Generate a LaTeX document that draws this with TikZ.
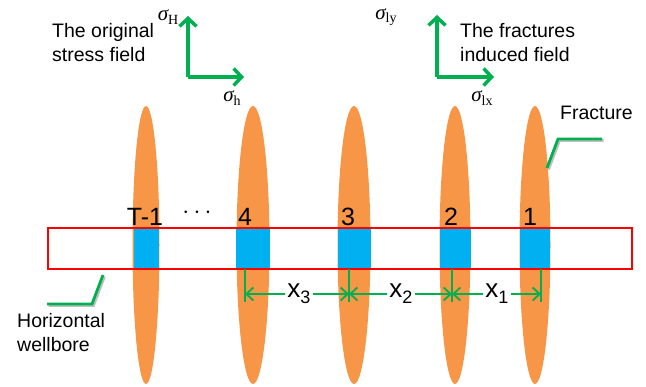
\documentclass[tikz,border=0pt]{standalone}
\usepackage{fontspec}
\setmainfont{Liberation Sans}
\newfontfamily\tmsfont{Liberation Serif}
\usetikzlibrary{arrows.meta,shapes.geometric,calc}
\definecolor{forange}{HTML}{F79646}
\definecolor{fblue}{HTML}{00B0F0}
\definecolor{fgreen}{HTML}{00B050}
\newcommand{\sig}[1]{{\tmsfont\itshape σ}\raisebox{-0.3ex}{\fontsize{14}{14}\selectfont\tmsfont #1}}
\newcommand{\xsub}[1]{x\raisebox{-0.45ex}{\fontsize{18}{18}\selectfont #1}}
\begin{document}
\begin{tikzpicture}[x=1pt,y=-1pt,
  frac/.style={ellipse,fill=forange,draw=none,minimum height=278pt,inner sep=0pt},
  perf/.style={rectangle,fill=fblue,draw=none,minimum height=39pt,inner sep=0pt},
  num/.style={font=\fontsize{25}{28}\selectfont,inner sep=0pt},
  lbl/.style={font=\fontsize{19.5}{24}\selectfont,align=left,inner sep=0pt,anchor=north west},
  sigl/.style={font=\fontsize{21}{22}\selectfont,inner sep=0pt},
  axis/.style={fgreen,line width=3.5pt,-{Straight Barb[length=8pt,width=17pt,line width=3.5pt]}},
  dim/.style={fgreen,line width=1.8pt},
  dimarr/.style={fgreen,line width=1.8pt,-{Straight Barb[length=7pt,width=13pt,line width=1.8pt]}},
  leader/.style={fgreen,line width=2.8pt},
  shadowl/.style={black!25,line width=2.8pt},
  dlbl/.style={font=\fontsize{26}{28}\selectfont,inner sep=2pt}
]
\useasboundingbox (0,0) rectangle (646,387);

% fractures
\node[frac,minimum width=27pt] (fT) at (146,245) {};
\node[frac,minimum width=33pt] (f4) at (253,245) {};
\node[frac,minimum width=33pt] (f3) at (354,245) {};
\node[frac,minimum width=31pt] (f2) at (455,245) {};
\node[frac,minimum width=31pt] (f1) at (535,245) {};

% perforations
\node[perf,minimum width=25pt] (pT) at (146.5,248.5) {};
\node[perf,minimum width=34pt] (p4) at (253,248.5) {};
\node[perf,minimum width=33pt] (p3) at (354.5,248.5) {};
\node[perf,minimum width=31pt] (p2) at (455.5,248.5) {};
\node[perf,minimum width=30pt] (p1) at (535,248.5) {};

% wellbore
\node[draw=red,line width=2pt,minimum width=584pt,minimum height=41pt,inner sep=0pt] (well) at (340,248.5) {};

% numbers
\node[num] (nT) at (145,217) {T-1};
\node[num] (ndots) at (197,213) {$\cdots$};
\node[num] (n4) at (245,217) {4};
\node[num] (n3) at (348,217) {3};
\node[num] (n2) at (451,217) {2};
\node[num] (n1) at (530,217) {1};

% dimension ticks
\coordinate (t4a) at (245,269); \coordinate (t4b) at (245,302); \coordinate (t4) at (245,294);
\coordinate (t3a) at (349,269); \coordinate (t3b) at (349,302); \coordinate (t3) at (349,294);
\coordinate (t2a) at (452,269); \coordinate (t2b) at (452,302); \coordinate (t2) at (452,294);
\coordinate (t1a) at (541,269); \coordinate (t1b) at (541,302); \coordinate (t1) at (541,294);
\draw[dim] (t4a) -- (t4b);
\draw[dim] (t3a) -- (t3b);
\draw[dim] (t2a) -- (t2b);
\draw[dim] (t1a) -- (t1b);

\node[dlbl] (x3) at (299,294) {\xsub{3}};
\node[dlbl] (x2) at (401,294) {\xsub{2}};
\node[dlbl] (x1) at (497,294) {\xsub{1}};
\draw[dimarr] (x3.west |- t4) -- (t4);
\draw[dimarr] (x3.east |- t3) -- (t3);
\draw[dimarr] (x2.west |- t3) -- (t3);
\draw[dimarr] (x2.east |- t2) -- (t2);
\draw[dimarr] (x1.west |- t2) -- (t2);
\draw[dimarr] (x1.east |- t1) -- (t1);

% stress axes
\coordinate (o1) at (188,77);
\coordinate (o1y) at (188,16);
\coordinate (o1x) at (244,77);
\draw[axis] (o1) -- (o1y);
\draw[axis] (o1) -- (o1x);
\node[sigl] (sH) at (168,17) {\sig{H}};
\node[sigl] (sh) at (232,98) {\sig{h}};

\coordinate (o2) at (437,77);
\coordinate (o2y) at (437,15);
\coordinate (o2x) at (494,77);
\draw[axis] (o2) -- (o2y);
\draw[axis] (o2) -- (o2x);
\node[sigl] (sly) at (386,17) {\sig{ly}};
\node[sigl] (slx) at (482,98) {\sig{lx}};

% texts
\node[lbl] (orig) at (52,23) {The original\\stress field};
\node[lbl] (ind) at (460,23) {The fractures\\induced field};
\node[lbl] (fracl) at (560,106) {Fracture};
\node[lbl] (hw) at (17,313) {Horizontal\\wellbore};

% leaders
\coordinate (la1) at (547,168); \coordinate (la2) at (558,139); \coordinate (la3) at (602,139);
\draw[shadowl] ($(la1)+(1.5,1.5)$) -- ($(la2)+(1.5,1.5)$) -- ($(la3)+(1.5,1.5)$);
\draw[leader] (la1) -- (la2) -- (la3);
\coordinate (lb1) at (103,275); \coordinate (lb2) at (92,304); \coordinate (lb3) at (47,304);
\draw[shadowl] ($(lb1)+(1.5,1.5)$) -- ($(lb2)+(1.5,1.5)$) -- ($(lb3)+(1.5,1.5)$);
\draw[leader] (lb1) -- (lb2) -- (lb3);
\end{tikzpicture}
\end{document}
